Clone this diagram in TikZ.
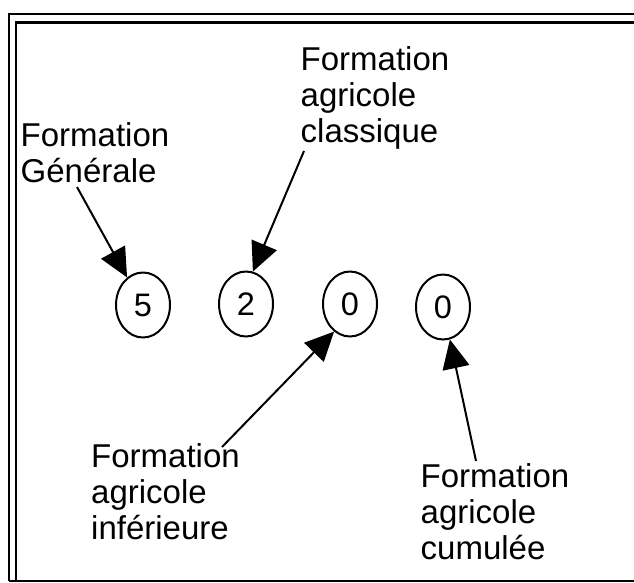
\documentclass[tikz,border=0pt]{standalone}
\usepackage{fontspec}
\setmainfont{Liberation Sans}
\usetikzlibrary{shapes.geometric,arrows.meta}
\begin{document}
\begin{tikzpicture}[x=1pt,y=-1pt,
  lbl/.style={anchor=base west, align=left, inner sep=0pt, font=\fontsize{33}{36}\selectfont},
  val/.style={ellipse, draw, line width=2pt, minimum width=54pt, minimum height=65pt, inner sep=0pt, font=\fontsize{32.5}{36}\selectfont},
  ptr/.style={line width=2pt, -{Triangle[length=29pt,width=27pt]}},
  frameline/.style={line width=2.5pt}]
\useasboundingbox (0,0) rectangle (634,582);
\begin{scope}
\clip (0,0) rectangle (634,582);
\draw[frameline] (9,581) -- (9,14) -- (650,14);
\draw[frameline] (16,581) -- (16,22.3) -- (650,22.3);
\draw[frameline] (9,581) -- (650,581);
\end{scope}
% values
\node[val] (e5) at (143,305) {5};
\node[val] (e2) at (246,304) {2};
\node[val] (e0a) at (350,304) {0};
\node[val] (e0b) at (443,307) {\raisebox{-8pt}{0}};
% labels (anchor is the baseline of the last line)
\node[lbl] (lg) at (20.5,182) {Formation\\Générale};
\node[lbl] (lc) at (300.5,142) {Formation\\agricole\\classique};
\node[lbl] (li) at (91,539) {Formation\\agricole\\inférieure};
\node[lbl] (lu) at (420.5,559) {Formation\\agricole\\cumulée};
% arrow start points
\coordinate (sg) at (77,187);
\coordinate (sc) at (304,151);
\coordinate (si) at (222,447);
\coordinate (su) at (476,461);
\draw[ptr] (sg) -- (e5.120);
\draw[ptr] (sc) -- (e2.78);
\draw[ptr] (si) -- (e0a.240);
\draw[ptr] (su) -- (e0b.282);
\end{tikzpicture}
\end{document}
